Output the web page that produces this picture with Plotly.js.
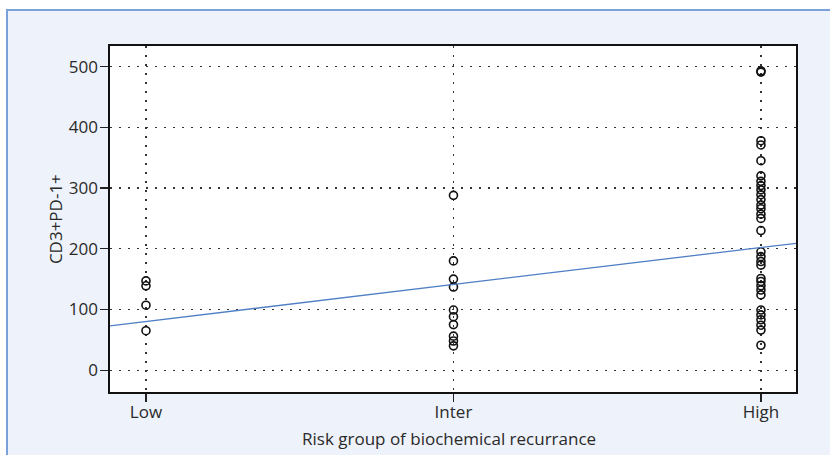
<!DOCTYPE html>
<html>
<head>
<meta charset="utf-8">
<script src="https://cdn.plot.ly/plotly-3.0.1.min.js"></script>
<style>
  html, body { margin: 0; padding: 0; background: #ffffff; }
  #frame { position: absolute; left: 6px; top: 9px; width: 840px; height: 460px;
           background: #eef2fa; border-left: 2px solid #7aa2d8; border-top: 2px solid #7aa2d8; }
  #chart { position: absolute; left: 0; top: 0; width: 830px; height: 455px; }
</style>
</head>
<body>
<div id="frame"></div>
<div id="chart"></div>
<script>
// Categories (x positions 0,1,2)
const categories = ["Low", "Inter", "High"];

// CD3+PD-1+ values per risk group
const lowValues = [147, 139, 107, 65];
const interValues = [288, 180, 150, 137, 99, 88, 75, 56, 48, 40];
const highValues = [493, 491, 378, 371, 345, 320, 311, 304, 297, 289, 281, 272, 266, 257,
                    250, 230, 195, 187, 179, 173, 151, 146, 139, 132, 124, 99, 91, 83, 74, 66, 41];

// Fitted line, x in category-index units
const fitX = [-0.117, 2.114];
const fitY = [73, 209];

// Y tick values
const yTicks = [0, 100, 200, 300, 400, 500];

const xTitle = "Risk group of biochemical recurrance";
const yTitle = "CD3+PD-1+";

const groups = [lowValues, interValues, highValues];
const ptsX = [], ptsY = [];
groups.forEach((vals, i) => vals.forEach(v => { ptsX.push(i); ptsY.push(v); }));

const font = "Open Sans, DejaVu Sans, sans-serif";
const txtColor = "#2a2a2a";

const traces = [
  {
    x: ptsX, y: ptsY, type: "scatter", mode: "markers",
    marker: { symbol: "circle-open", size: 8, color: "#111111", line: { width: 1.6, color: "#111111" } },
    hoverinfo: "skip", showlegend: false
  },
  {
    x: fitX, y: fitY, type: "scatter", mode: "lines",
    line: { color: "#4f7fc4", width: 1.3 },
    hoverinfo: "skip", showlegend: false
  }
];

const axisCommon = {
  showline: true, mirror: true, linecolor: "#111111", linewidth: 1.6,
  ticks: "outside", ticklen: 8, tickwidth: 1.2, tickcolor: "#222222",
  showgrid: true, gridcolor: "#333333", gridwidth: 1.1, griddash: "1.6px,7.4px",
  zeroline: false,
  tickfont: { family: font, size: 17, color: txtColor }
};

const layout = {
  width: 830, height: 455,
  margin: { l: 110, r: 34, t: 46, b: 63 },
  paper_bgcolor: "rgba(0,0,0,0)",
  plot_bgcolor: "#ffffff",
  showlegend: false,
  xaxis: Object.assign({}, axisCommon, {
    range: [-0.117, 2.114],
    tickmode: "array", tickvals: categories.map((c, i) => i), ticktext: categories,
    ticklabelstandoff: -4
  }),
  yaxis: Object.assign({}, axisCommon, {
    range: [-36, 534],
    tickmode: "array", tickvals: yTicks,
    ticklabelstandoff: -1
  }),
  annotations: [
    { text: xTitle, xref: "paper", yref: "paper", x: 0.494, y: -0.133,
      xanchor: "center", yanchor: "middle", showarrow: false,
      font: { family: font, size: 17, color: txtColor } },
    { text: yTitle, xref: "paper", yref: "paper", x: -0.08, y: 0.5, textangle: -90,
      xanchor: "center", yanchor: "middle", showarrow: false,
      font: { family: font, size: 17, color: txtColor } }
  ]
};

Plotly.newPlot("chart", traces, layout, { staticPlot: true, displayModeBar: false });
</script>
</body>
</html>
